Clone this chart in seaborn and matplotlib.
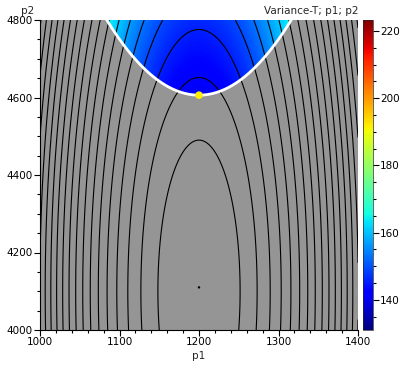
import numpy as np
import matplotlib
matplotlib.use("Agg")
import matplotlib.pyplot as plt
import seaborn as sns
from matplotlib.colors import Normalize
from matplotlib.ticker import MultipleLocator

# axes ranges
p1_range = [1000, 1400]
p2_range = [4000, 4800]

# variance model (elliptic bowl)
center_p1 = 1200
center_p2 = 4100
scale_p1 = 51.7
scale_p2 = 390
var_min = 134.0
var_step = 3.8          # variance change between two contour lines
n_levels = 20

# feasible region border: p2 >= apex_p2 + curv * (p1 - apex_p1)^2
apex_p1 = 1200
apex_p2 = 4606
curv = 0.01442

# marked points
opt_p1 = [1200]
opt_p2 = [4606]
min_p1 = [1200]
min_p2 = [4110]

# colour scale
cbar_min = 131.0
cbar_max = 223.3
cbar_ticks = [140, 160, 180, 200, 220]

sns.set_theme(style="ticks")
plt.rcParams['font.family'] = ['DejaVu Sans']

W, H = 409, 371
fig = plt.figure(figsize=(W / 100, H / 100), dpi=100)
ax = fig.add_axes([40 / W, 1 - 330 / H, 318 / W, 310 / H])

x = np.linspace(p1_range[0], p1_range[1], 500)
y = np.linspace(p2_range[0], p2_range[1], 500)
X, Y = np.meshgrid(x, y)
K = ((X - center_p1) / scale_p1) ** 2 + ((Y - center_p2) / scale_p2) ** 2
V = var_min + var_step * K

border = apex_p2 + curv * (X - apex_p1) ** 2
V_feas = np.ma.masked_where(Y < border, V)

norm = Normalize(cbar_min, cbar_max)
ax.set_facecolor('#959595')
mesh = ax.pcolormesh(X, Y, V_feas, cmap='jet', norm=norm, shading='auto')

levels = [var_min + var_step * k for k in range(1, n_levels + 1)]
ax.contour(X, Y, V, levels=levels, colors='black', linewidths=0.8)

bx = np.linspace(p1_range[0], p1_range[1], 400)
ax.plot(bx, apex_p2 + curv * (bx - apex_p1) ** 2, color='white', lw=2.0)

sns.scatterplot(x=opt_p1, y=opt_p2, ax=ax, color='#ffee00', s=30,
                edgecolor='none', zorder=5)
sns.scatterplot(x=min_p1, y=min_p2, ax=ax, color='black', s=3,
                edgecolor='none', zorder=5)

ax.set_xlim(p1_range)
ax.set_ylim(p2_range)
ax.xaxis.set_major_locator(MultipleLocator(100))
ax.xaxis.set_minor_locator(MultipleLocator(20))
ax.yaxis.set_major_locator(MultipleLocator(200))
ax.yaxis.set_minor_locator(MultipleLocator(50))
ax.tick_params(which='major', length=4, width=0.8, labelsize=7.5, pad=1,
               color='black', labelcolor='black')
ax.tick_params(which='minor', length=2.5, width=0.8, color='black')
for side in ['top', 'right']:
    ax.spines[side].set_visible(False)
for side in ['left', 'bottom']:
    ax.spines[side].set_color('black')
    ax.spines[side].set_linewidth(0.8)
ax.set_xlabel('')
ax.set_ylabel('')
fig.canvas.draw()
xt = ax.get_xticklabels()
xt[-1].set_horizontalalignment('right')

fig.text(28 / W, 1 - 11 / H, 'p2', fontsize=7.5, ha='center', va='center')
fig.text(358 / W, 1 - 11 / H, 'Variance-T; p1; p2', fontsize=7.5,
         ha='right', va='center')
fig.text(199 / W, 1 - 356 / H, 'p1', fontsize=7.5, ha='center', va='center')

cax = fig.add_axes([363 / W, 1 - 330 / H, 10 / W, 310 / H])
sm = plt.cm.ScalarMappable(norm=norm, cmap='jet')
cb = fig.colorbar(sm, cax=cax)
cb.set_ticks(cbar_ticks)
cb.ax.yaxis.set_minor_locator(MultipleLocator(5))
cb.outline.set_linewidth(0.5)
cb.ax.tick_params(which='major', length=4, width=0.8, labelsize=7.5, pad=1,
                  color='black', labelcolor='black')
cb.ax.tick_params(which='minor', length=2.5, width=0.8, color='black')

fig.savefig('out.png', dpi=100)
